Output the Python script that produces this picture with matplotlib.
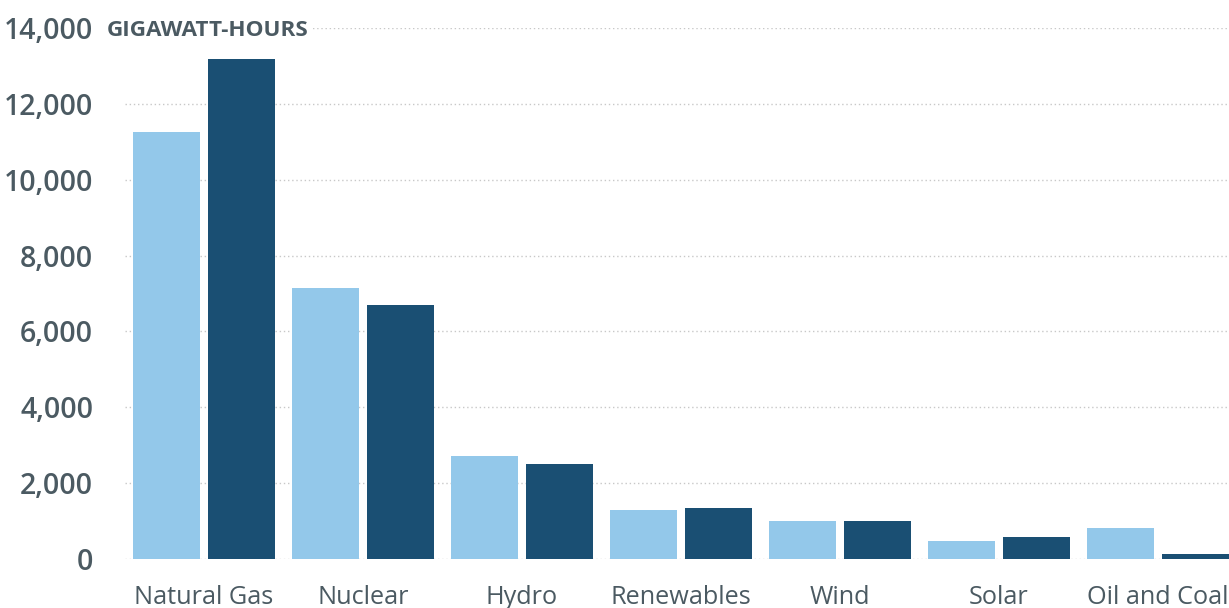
import matplotlib
matplotlib.use('Agg')
import matplotlib.pyplot as plt
import numpy as np

# data (gigawatt-hours)
categories = ['Natural Gas', 'Nuclear', 'Hydro', 'Renewables', 'Wind', 'Solar', 'Oil and Coal']
earlier = [11250, 7150, 2720, 1300, 1000, 480, 820]
later = [13180, 6700, 2500, 1340, 1000, 580, 130]
yticks = [0, 2000, 4000, 6000, 8000, 10000, 12000, 14000]

text_color = '#4b5a62'
light_blue = '#93c8ea'
dark_blue = '#1a4f73'

plt.rcParams['font.family'] = ['Open Sans', 'DejaVu Sans']

fig = plt.figure(figsize=(12.29, 6.08), dpi=100)
ax = fig.add_axes([125 / 1229, 49 / 608, 1 - 125 / 1229, 531 / 608])

x = np.arange(len(categories))
w = 0.42
off = 0.236
ax.bar(x - off, earlier, width=w, color=light_blue, zorder=2)
ax.bar(x + off, later, width=w, color=dark_blue, zorder=2)

ax.set_xlim(-0.497, 6.447)
ax.set_ylim(0, 14000)
ax.set_yticks(yticks)
ax.set_yticklabels([f'{v:,}' for v in yticks], fontsize=20.5, fontweight='semibold', color=text_color)
ax.set_xticks(x)
ax.set_xticklabels(categories, fontsize=18.2, color=text_color)
ax.tick_params(axis='both', length=0)
ax.tick_params(axis='y', pad=23)
ax.tick_params(axis='x', pad=18.5)

ax.grid(axis='y', linestyle=(0, (1, 2)), color='#c8c8c8', linewidth=1, zorder=0)
ax.set_axisbelow(True)
for s in ax.spines.values():
    s.set_visible(False)

# unit label sitting on the top gridline, with white behind it
fig.text(107 / 1229, 1 - 30 / 608, 'GIGAWATT-HOURS', fontsize=16.2, fontweight='bold', color=text_color,
         ha='left', va='center', zorder=3,
         bbox=dict(facecolor='white', edgecolor='none', pad=2))

fig.savefig('out.png', dpi=100)
